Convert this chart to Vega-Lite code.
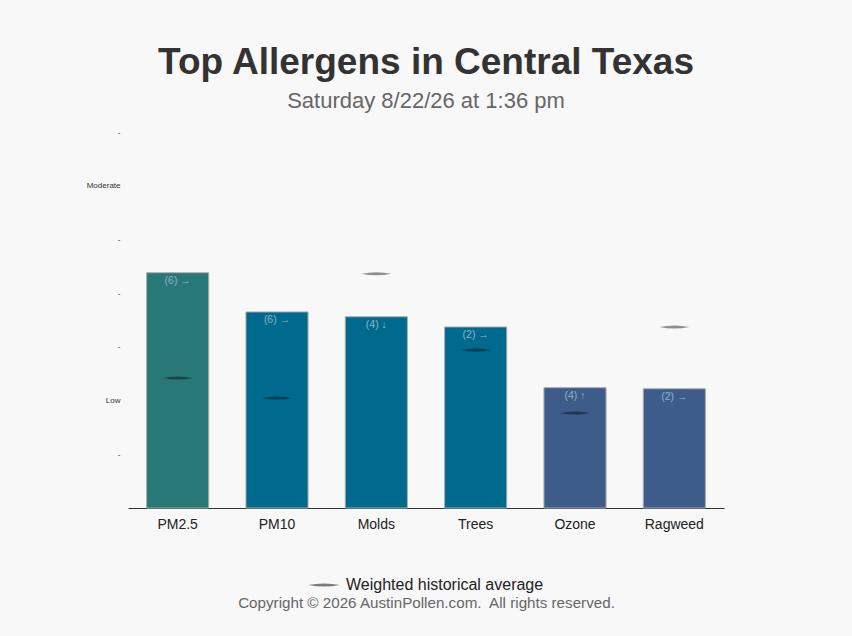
{
  "$schema": "https://vega.github.io/schema/vega-lite/v6.json",
  "width": 596,
  "height": 376,
  "autosize": "none",
  "padding": {"left": 128, "top": 132, "right": 128, "bottom": 128},
  "background": "#f8f8f8",
  "title": {
    "text": "Top Allergens in Central Texas",
    "subtitle": "Saturday 8/22/26 at 1:36 pm",
    "anchor": "middle",
    "frame": "group",
    "font": "Liberation Sans",
    "fontSize": 37,
    "fontWeight": "bold",
    "color": "#333333",
    "subtitleFont": "Liberation Sans",
    "subtitleFontSize": 22,
    "subtitleColor": "#666666",
    "subtitlePadding": 9,
    "offset": 15
  },
  "config": {
    "view": {"stroke": null},
    "font": "Liberation Sans"
  },
  "data": {
    "values": [
      {"allergen": "PM2.5", "level": 4.38, "average": 2.42, "trend": "(6) →"},
      {"allergen": "PM10", "level": 3.65, "average": 2.05, "trend": "(6) →"},
      {"allergen": "Molds", "level": 3.56, "average": 4.36, "trend": "(4) ↓"},
      {"allergen": "Trees", "level": 3.37, "average": 2.94, "trend": "(2) →"},
      {"allergen": "Ozone", "level": 2.24, "average": 1.77, "trend": "(4) ↑"},
      {"allergen": "Ragweed", "level": 2.22, "average": 3.37, "trend": "(2) →"}
    ]
  },
  "encoding": {
    "x": {
      "field": "allergen",
      "type": "nominal",
      "sort": null,
      "scale": {"paddingInner": 0.375, "paddingOuter": 0.1875},
      "axis": {
        "title": "Copyright © 2026 AustinPollen.com.\u00a0 All rights reserved.",
        "titleFontSize": 15.2,
        "titleFontWeight": "normal",
        "titleColor": "#666666",
        "titlePadding": 64,
        "labelAngle": 0,
        "labelFontSize": 14,
        "labelColor": "#222222",
        "labelPadding": 9,
        "ticks": false,
        "domainColor": "#333333",
        "domainWidth": 1
      }
    }
  },
  "layer": [
    {
      "mark": {"type": "bar", "stroke": "#aaaaaa", "strokeWidth": 1},
      "encoding": {
        "y": {
          "field": "level",
          "type": "quantitative",
          "scale": {"domain": [0, 7], "nice": false},
          "axis": {
            "title": null,
            "values": [1, 2, 3, 4, 5, 6, 7],
            "labelExpr": "datum.value == 2 ? 'Low' : datum.value == 6 ? 'Moderate' : '-'",
            "labelFontSize": 8,
            "labelColor": "#333333",
            "labelPadding": 8,
            "ticks": false,
            "domain": false,
            "grid": false
          }
        },
        "color": {
          "field": "level",
          "type": "quantitative",
          "scale": {"type": "threshold", "domain": [3, 4], "range": ["#3d5c8a", "#006a8e", "#287878"]},
          "legend": null
        }
      }
    },
    {
      "mark": {"type": "text", "baseline": "top", "dy": 3, "fontSize": 10.5, "color": "#8fb3c6"},
      "encoding": {
        "y": {"field": "level", "type": "quantitative"},
        "text": {"field": "trend"}
      }
    },
    {
      "mark": {
        "type": "point",
        "shape": "M-1,0Q0,-0.2,1,0Q0,0.2,-1,0Z",
        "filled": true,
        "size": 900,
        "opacity": 0.42,
        "strokeWidth": 0
      },
      "encoding": {
        "y": {"field": "average", "type": "quantitative"},
        "fill": {
          "datum": "Weighted historical average",
          "scale": {"range": ["#000000"]},
          "legend": {
            "title": null,
            "orient": "none",
            "legendX": 180,
            "legendY": 437,
            "padding": 0,
            "symbolSize": 1000,
            "symbolOpacity": 0.5,
            "symbolStrokeWidth": 0,
            "labelFontSize": 16,
            "labelColor": "#222222",
            "labelOffset": 6,
            "labelLimit": 0
          }
        }
      }
    }
  ]
}
